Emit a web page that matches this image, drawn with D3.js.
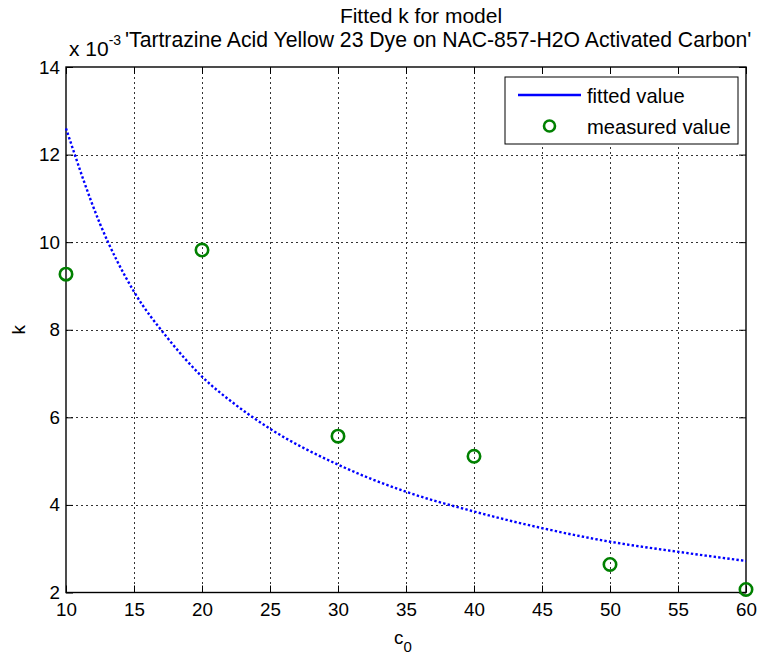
<!DOCTYPE html>
<html>
<head>
<meta charset="utf-8">
<script src="https://cdn.jsdelivr.net/npm/d3@7"></script>
<style>
  html, body { margin: 0; padding: 0; background: #fff; }
  svg { display: block; font-family: "Liberation Sans", Arial, Helvetica, sans-serif; }
</style>
</head>
<body>
<svg id="chart" width="770" height="656"></svg>
<script>
// Measured rate constants k (x 10^-3) at initial concentrations c0
const measuredC0 = [10, 20, 30, 40, 50, 60];
const measuredK = [9.27, 9.82, 5.57, 5.11, 2.64, 2.07];

// Fitted model curve k(c0) (x 10^-3)
const fittedC0 = [10, 12.5, 15, 17.5, 20, 22.5, 25, 30, 35, 40, 45, 50, 55, 60];
const fittedK = [12.6, 10.42, 8.87, 7.8, 6.93, 6.28, 5.74, 4.92, 4.3, 3.85, 3.47, 3.16, 2.93, 2.72];

// Tick values
const xTicks = [10, 15, 20, 25, 30, 35, 40, 45, 50, 55, 60];
const yTicks = [2, 4, 6, 8, 10, 12, 14];

const titleLines = ["Fitted k for model", "'Tartrazine Acid Yellow 23 Dye on NAC-857-H2O Activated Carbon'"];
const legendLabels = ["fitted value", "measured value"];

const W = 770, H = 656;
const margin = { left: 66, right: 24, top: 67, bottom: 63.5 };
const svg = d3.select("#chart");

const x = d3.scaleLinear().domain([10, 60]).range([margin.left, W - margin.right]);
const y = d3.scaleLinear().domain([2, 14]).range([H - margin.bottom, margin.top]);

const x0 = x.range()[0], x1 = x.range()[1];
const y0 = y.range()[0], y1 = y.range()[1];

const tickFont = 18.8;

// Dotted grid
const grid = svg.append("g").attr("stroke", "#333").attr("stroke-width", 1)
  .attr("stroke-dasharray", "2,3");
grid.selectAll("line.vx").data(xTicks.slice(1, -1)).join("line")
  .attr("x1", d => Math.round(x(d)) + 0.5).attr("x2", d => Math.round(x(d)) + 0.5)
  .attr("y1", y1).attr("y2", y0);
grid.selectAll("line.hy").data(yTicks.slice(1, -1)).join("line")
  .attr("x1", x0).attr("x2", x1)
  .attr("y1", d => Math.round(y(d)) + 0.5).attr("y2", d => Math.round(y(d)) + 0.5);

// Axes with inward ticks on all four sides
const tickLen = 7;
const axB = svg.append("g").attr("transform", `translate(0,${y0})`)
  .call(d3.axisBottom(x).tickValues(xTicks).tickSizeInner(-tickLen).tickSizeOuter(0).tickPadding(10));
const axT = svg.append("g").attr("transform", `translate(0,${y1})`)
  .call(d3.axisTop(x).tickValues(xTicks).tickSizeInner(-tickLen).tickSizeOuter(0).tickFormat(""));
const axL = svg.append("g").attr("transform", `translate(${x0},0)`)
  .call(d3.axisLeft(y).tickValues(yTicks).tickSizeInner(-tickLen).tickSizeOuter(0).tickPadding(6));
const axR = svg.append("g").attr("transform", `translate(${x1},0)`)
  .call(d3.axisRight(y).tickValues(yTicks).tickSizeInner(-tickLen).tickSizeOuter(0).tickFormat(""));
[axB, axT, axL, axR].forEach(a => {
  a.select(".domain").remove();
  a.selectAll(".tick line").attr("stroke", "#000").attr("stroke-width", 1);
  a.selectAll(".tick text").attr("fill", "#000").attr("font-size", tickFont)
    .attr("font-family", "Liberation Sans, Arial, sans-serif");
});
axB.selectAll(".tick text").attr("dy", "0.71em");

// Axes box
svg.append("rect").attr("x", x0).attr("y", y1).attr("width", x1 - x0).attr("height", y0 - y1)
  .attr("fill", "none").attr("stroke", "#000").attr("stroke-width", 1.4);

// Fitted curve (dotted)
const line = d3.line().x((d, i) => x(fittedC0[i])).y(d => y(d)).curve(d3.curveMonotoneX);
svg.append("path").datum(fittedK).attr("d", line)
  .attr("fill", "none").attr("stroke", "#0000ff").attr("stroke-width", 2.4)
  .attr("stroke-dasharray", "2.4,2.2");

// Measured points
svg.append("g").selectAll("circle").data(measuredK).join("circle")
  .attr("cx", (d, i) => x(measuredC0[i])).attr("cy", d => y(d)).attr("r", 6.2)
  .attr("fill", "none").attr("stroke", "#008000").attr("stroke-width", 2.6);

// Title (two lines)
svg.append("text").attr("x", 421).attr("y", 23).attr("text-anchor", "middle")
  .attr("font-size", 21).text(titleLines[0]);
svg.append("text").attr("x", 125).attr("y", 47).attr("text-anchor", "start")
  .attr("font-size", 21.2).text(titleLines[1]);

// Exponent marker for the y axis
const ex = svg.append("text").attr("x", 69).attr("y", 56).attr("font-size", 21);
ex.append("tspan").text("x 10");
ex.append("tspan").attr("dy", -11).attr("font-size", 14).text("-3");

// Axis labels
svg.append("text").attr("x", 394).attr("y", 644).attr("font-size", tickFont)
  .call(t => {
    t.append("tspan").text("c");
    t.append("tspan").attr("dy", 8).attr("font-size", 15).text("0");
  });
svg.append("text").attr("transform", `translate(25,${(y0 + y1) / 2}) rotate(-90)`)
  .attr("text-anchor", "middle").attr("font-size", tickFont).text("k");

// Legend
const lg = svg.append("g");
const lx = 505, ly = 77, lw = 233, lh = 67;
lg.append("rect").attr("x", lx).attr("y", ly).attr("width", lw).attr("height", lh)
  .attr("fill", "#fff").attr("stroke", "#000").attr("stroke-width", 1);
lg.append("line").attr("x1", lx + 13).attr("x2", lx + 76).attr("y1", ly + 18).attr("y2", ly + 18)
  .attr("stroke", "#0000ff").attr("stroke-width", 2.4);
lg.append("circle").attr("cx", lx + 44.5).attr("cy", ly + 49).attr("r", 5.5)
  .attr("fill", "none").attr("stroke", "#008000").attr("stroke-width", 2.6);
lg.selectAll("text").data(legendLabels).join("text")
  .attr("x", lx + 82).attr("y", (d, i) => ly + 26 + i * 30.5)
  .attr("font-size", 20.2).text(d => d);
</script>
</body>
</html>
